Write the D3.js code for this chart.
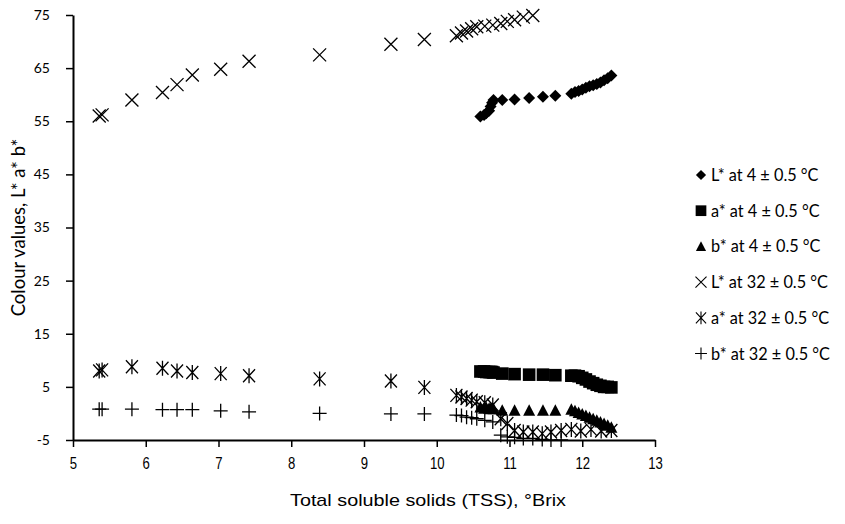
<!DOCTYPE html>
<html lang="en">
<head>
<meta charset="UTF-8">
<title>colour vs TSS</title>
<script src="https://cdn.jsdelivr.net/npm/d3@7"></script>
<style>
    body { margin: 0; background: #fff; }
    .tick line { stroke: #000; stroke-width: 1.5; }
    .domain { stroke: #000; stroke-width: 2; }
</style>
</head>
<body>
<svg width="845" height="524"></svg>
<script>
    // 4 °C storage: shared TSS values
    const tss4 = [10.60, 10.65, 10.68, 10.72, 10.74, 10.76, 10.78, 10.90, 11.07, 11.27, 11.46, 11.63,
                  11.85, 11.90, 11.95, 12.00, 12.05, 12.10, 12.15, 12.20, 12.25, 12.30, 12.35, 12.40];
    const L4 = [55.9, 56.2, 56.5, 57.0, 57.8, 58.5, 59.0, 59.0, 59.1, 59.4, 59.6, 59.8,
                60.2, 60.5, 60.7, 61.0, 61.3, 61.6, 61.8, 62.0, 62.3, 62.7, 63.1, 63.6];
    const a4 = [7.9, 7.9, 7.8, 7.8, 7.8, 7.8, 7.7, 7.5, 7.4, 7.3, 7.3, 7.2,
                7.1, 7.1, 7.0, 6.7, 6.4, 6.0, 5.7, 5.4, 5.2, 5.0, 5.0, 4.9];
    const b4 = [1.2, 1.0, 1.1, 1.0, 0.9, 1.0, 0.9, 0.6, 0.6, 0.6, 0.6, 0.6,
                0.8, 0.5, 0.2, -0.1, -0.4, -0.7, -1.0, -1.3, -1.6, -1.9, -2.2, -2.6];

    // 32 °C storage (null = off the plot)
    const tss32 = [5.36, 5.40, 5.81, 6.23, 6.43, 6.64, 7.03, 7.42, 8.39, 9.37, 9.83,
                   10.27, 10.34, 10.41, 10.48, 10.55, 10.66, 10.77, 10.88, 10.97, 11.07, 11.19, 11.32,
                   11.45, 11.57, 11.71, 11.85, 11.98, 12.12, 12.26, 12.40];
    const L32 = [56.0, 56.2, 59.0, 60.4, 61.9, 63.7, 64.8, 66.3, 67.5, 69.5, 70.4,
                 71.1, 71.6, 72.0, 72.4, 72.8, 72.9, 73.1, 73.4, 73.8, 74.1, 74.6, 74.9,
                 null, null, null, null, null, null, null, null];
    const a32 = [8.0, 8.2, 8.8, 8.5, 8.0, 7.7, 7.5, 7.1, 6.5, 6.1, 4.9,
                 3.4, 3.1, 2.8, 2.5, 2.2, 2.0, 1.6, -1.0, -1.9, -3.2, -3.5, -3.5,
                 -3.8, -3.5, -3.2, -3.0, -3.3, -3.0, -3.3, -3.2];
    const b32 = [0.8, 0.8, 0.8, 0.7, 0.7, 0.7, 0.5, 0.3, 0.0, -0.1, -0.1,
                 -0.3, -0.4, -0.7, -0.8, -1.0, -1.3, -1.6, -4.1, -4.4, -4.5, -4.7, -4.7,
                 -4.9, -5.0, -5.0, null, null, null, null, null];

    const yTicks = [-5, 5, 15, 25, 35, 45, 55, 65, 75];
    const xTicks = [5, 6, 7, 8, 9, 10, 11, 12, 13];

    const series = [
        {name: 'L* at 4 ± 0.5 °C', x: tss4, y: L4, mark: 'diamond'},
        {name: 'a* at 4 ± 0.5 °C', x: tss4, y: a4, mark: 'square'},
        {name: 'b* at 4 ± 0.5 °C', x: tss4, y: b4, mark: 'triangle'},
        {name: 'L* at 32 ± 0.5 °C', x: tss32, y: L32, mark: 'cross'},
        {name: 'a* at 32 ± 0.5 °C', x: tss32, y: a32, mark: 'star'},
        {name: 'b* at 32 ± 0.5 °C', x: tss32, y: b32, mark: 'plus'}
    ];

    const margin = {left: 73, right: 190, top: 15, bottom: 84};
    const width = 845, height = 524;
    const svg = d3.select('svg');
    const narrow = '"Liberation Sans", Arial, sans-serif';
    const calibri = 'Lato, "Open Sans", sans-serif';

    const x = d3.scaleLinear().domain([5, 13]).range([margin.left, width - margin.right]);
    const y = d3.scaleLinear().domain([-5, 75]).range([height - margin.bottom, margin.top]);

    const markPath = {
        diamond: 'M0,-6L6,0L0,6L-6,0Z',
        square: 'M-6.3,-6.3H6.3V6.3H-6.3Z',
        triangle: 'M0,-6L6,5.5L-6,5.5Z',
        cross: 'M-6.5,-6.5L6.5,6.5M6.5,-6.5L-6.5,6.5',
        star: 'M-6,-6.5L6,6.5M6,-6.5L-6,6.5M0,-7.5L0,7.5',
        plus: 'M-7,0L7,0M0,-7L0,7'
    };
    const filled = {diamond: true, square: true, triangle: true};

    function drawMark(sel, mark) {
        sel.attr('d', markPath[mark])
            .attr('fill', filled[mark] ? '#000' : 'none')
            .attr('stroke', '#000')
            .attr('stroke-width', filled[mark] ? 0 : 1.3);
    }

    // axes
    svg.append('g')
        .attr('transform', `translate(0,${y(-5)})`)
        .call(d3.axisBottom(x).tickValues(xTicks).tickFormat(d => String(d))
            .tickSize(7).tickSizeOuter(0).tickPadding(11))
        .call(g => g.selectAll('text')
            .attr('font-family', narrow)
            .attr('font-size', 16).attr('fill', '#000')
            .attr('transform', 'scale(0.82,1)'));

    svg.append('g')
        .attr('transform', `translate(${x(5)},0)`)
        .call(d3.axisLeft(y).tickValues(yTicks).tickFormat(d => String(d))
            .tickSize(7).tickSizeOuter(0).tickPadding(16))
        .call(g => g.selectAll('text')
            .attr('font-family', calibri)
            .attr('font-size', 14).attr('fill', '#000'));

    // markers
    series.forEach(s => {
        const pts = s.x.map((v, i) => [v, s.y[i]]).filter(d => d[1] !== null);
        svg.append('g').selectAll('path')
            .data(pts)
            .join('path')
            .attr('transform', d => `translate(${x(d[0])},${y(d[1])})`)
            .call(drawMark, s.mark);
    });

    // axis titles
    svg.append('text')
        .text('Total soluble solids (TSS), °Brix')
        .attr('x', 428).attr('y', 506)
        .attr('text-anchor', 'middle')
        .attr('font-family', narrow)
        .attr('font-size', 17)
        .attr('textLength', 276)
        .attr('lengthAdjust', 'spacingAndGlyphs');

    svg.append('text')
        .text('Colour values, L* a* b*')
        .attr('transform', `translate(25,${(y(-5) + y(75)) / 2}) rotate(-90)`)
        .attr('text-anchor', 'middle')
        .attr('font-family', calibri)
        .attr('font-size', 18.5);

    // legend
    const legend = svg.append('g').attr('transform', 'translate(701,175)');
    const item = legend.selectAll('g')
        .data(series)
        .join('g')
        .attr('transform', (d, i) => `translate(0,${i * 35.7})`);
    item.append('path')
        .attr('transform', 'scale(0.85)')
        .each(function(d) { d3.select(this).call(drawMark, d.mark); });
    item.append('text')
        .text(d => d.name)
        .attr('x', 10).attr('y', 6)
        .attr('font-family', calibri)
        .attr('font-size', 16.3);
</script>
</body>
</html>
